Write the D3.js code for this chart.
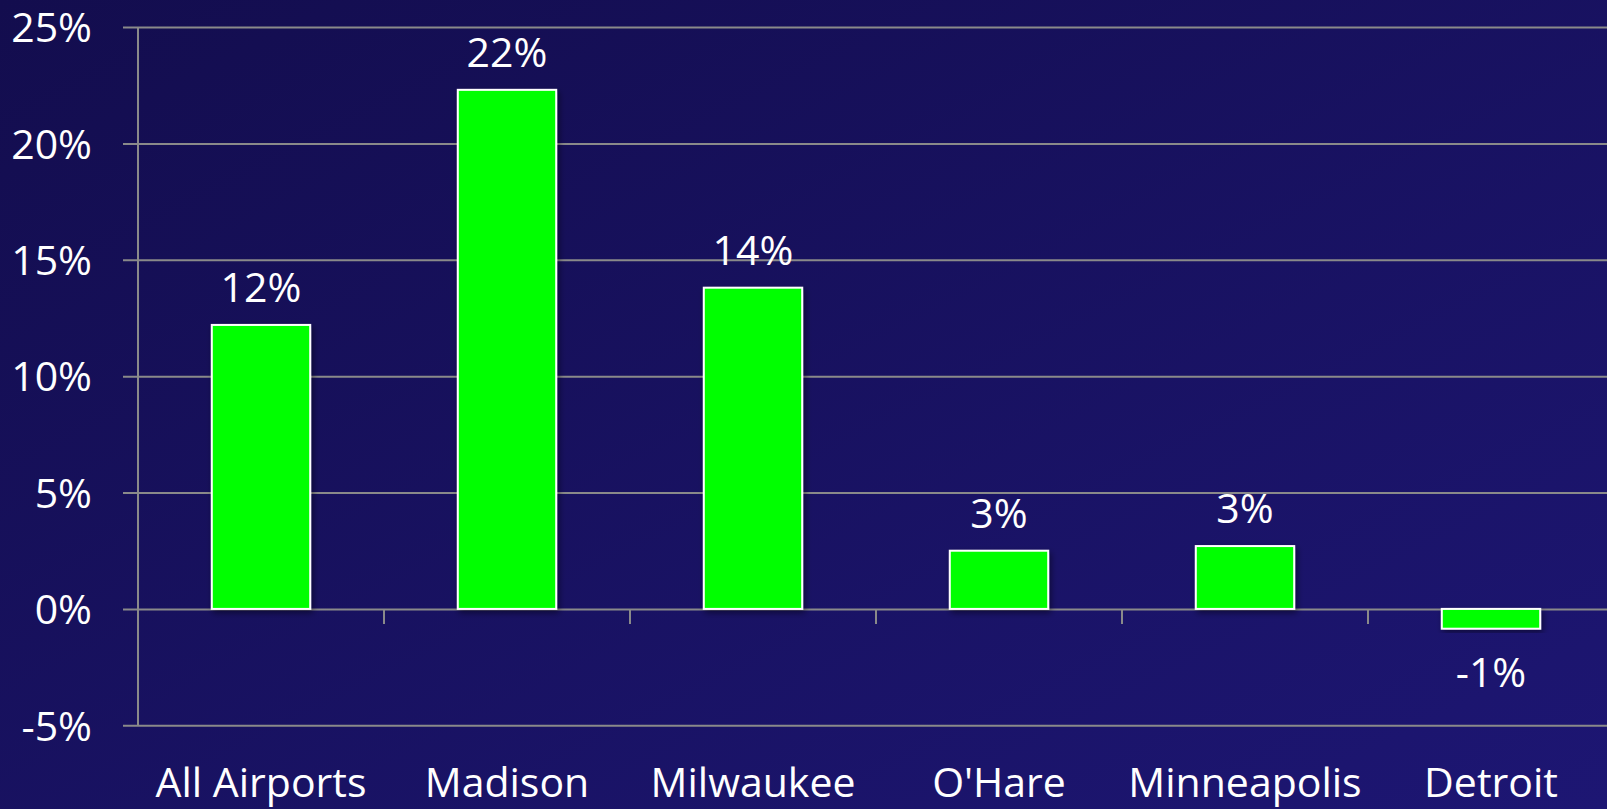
<!DOCTYPE html>
<html lang="en">
<head>
    <meta charset="UTF-8">
    <script src="https://d3js.org/d3.v7.min.js"></script>
    <title>Airport growth</title>
    <style>
        html, body { margin: 0; padding: 0; overflow: hidden; }
        body { width: 1607px; height: 809px; }
        svg { display: block; font-family: "Open Sans", "Noto Sans", sans-serif; }
    </style>
</head>
<body>
    <script>
        // data
        const airports = ["All Airports", "Madison", "Milwaukee", "O'Hare", "Minneapolis", "Detroit"];
        const growth = [12.2, 22.3, 13.8, 2.5, 2.7, -0.85];
        const labels = ["12%", "22%", "14%", "3%", "3%", "-1%"];
        const yTicks = [-5, 0, 5, 10, 15, 20, 25];

        const w = 1607;
        const h = 809;
        const padLeft = 138, padRight = 1614, padTop = 27, padBottom = 725.3;
        const font = "'Open Sans', 'Noto Sans', sans-serif";

        const svg = d3.select("body")
            .append("svg")
            .attr("width", w)
            .attr("height", h);

        const defs = svg.append("defs");
        const grad = defs.append("linearGradient")
            .attr("id", "bg")
            .attr("x1", "0").attr("y1", "0")
            .attr("x2", "1").attr("y2", "1");
        grad.append("stop").attr("offset", "0%").attr("stop-color", "#130d4e");
        grad.append("stop").attr("offset", "100%").attr("stop-color", "#1d1673");

        const shadow = defs.append("filter")
            .attr("id", "shadow")
            .attr("x", "-20%").attr("y", "-20%")
            .attr("width", "140%").attr("height", "140%");
        shadow.append("feDropShadow")
            .attr("dx", 2).attr("dy", 3)
            .attr("stdDeviation", 3)
            .attr("flood-color", "#000")
            .attr("flood-opacity", 0.45);

        svg.append("rect")
            .attr("width", w)
            .attr("height", h)
            .attr("fill", "url(#bg)");

        // scales
        const xScale = d3.scaleBand()
            .domain(airports)
            .range([padLeft, padRight])
            .padding(0);

        const yScale = d3.scaleLinear()
            .domain([-5, 25])
            .range([padBottom, padTop]);

        // gridlines + y labels
        const yAxis = d3.axisLeft(yScale)
            .tickValues(yTicks)
            .tickSize(-(w - padLeft))
            .tickSizeOuter(0)
            .tickPadding(46)
            .tickFormat(d => d + "%");

        const gy = svg.append("g")
            .attr("transform", "translate(" + padLeft + ", 0)")
            .call(yAxis)
            .attr("font-family", font)
            .attr("font-size", 41);
        gy.select(".domain").remove();
        gy.selectAll(".tick line")
            .attr("x1", -15)
            .attr("stroke", "#8a8a8a")
            .attr("stroke-width", 2);
        gy.selectAll(".tick text")
            .attr("fill", "#fff")
            .attr("dy", "0.36em");

        // vertical axis line
        svg.append("line")
            .attr("x1", padLeft).attr("x2", padLeft)
            .attr("y1", yScale(25)).attr("y2", yScale(-5))
            .attr("stroke", "#8a8a8a")
            .attr("stroke-width", 2);

        // category ticks on zero line
        svg.append("g")
            .selectAll("line")
            .data(airports.slice(1))
            .enter()
            .append("line")
            .attr("x1", d => xScale(d))
            .attr("x2", d => xScale(d))
            .attr("y1", yScale(0))
            .attr("y2", yScale(0) + 15)
            .attr("stroke", "#8a8a8a")
            .attr("stroke-width", 2);

        // bars
        const barW = xScale.bandwidth() * 0.4;
        svg.append("g")
            .selectAll("rect")
            .data(growth)
            .enter()
            .append("rect")
            .attr("x", (d, i) => xScale(airports[i]) + (xScale.bandwidth() - barW) / 2)
            .attr("y", d => yScale(Math.max(0, d)))
            .attr("width", barW)
            .attr("height", d => Math.abs(yScale(d) - yScale(0)))
            .attr("fill", "#00ff00")
            .attr("stroke", "#fff")
            .attr("stroke-width", 2)
            .attr("filter", "url(#shadow)");

        // value labels
        svg.append("g")
            .selectAll("text")
            .data(growth)
            .enter()
            .append("text")
            .attr("x", (d, i) => xScale(airports[i]) + xScale.bandwidth() / 2)
            .attr("y", d => d >= 0 ? yScale(d) - 23 : yScale(d) + 58)
            .attr("text-anchor", "middle")
            .attr("fill", "#fff")
            .attr("font-size", 41)
            .text((d, i) => labels[i]);

        // category labels
        svg.append("g")
            .selectAll("text")
            .data(airports)
            .enter()
            .append("text")
            .attr("x", d => xScale(d) + xScale.bandwidth() / 2)
            .attr("y", 797)
            .attr("text-anchor", "middle")
            .attr("fill", "#fff")
            .attr("font-size", 41)
            .text(d => d);
    </script>
</body>
</html>
